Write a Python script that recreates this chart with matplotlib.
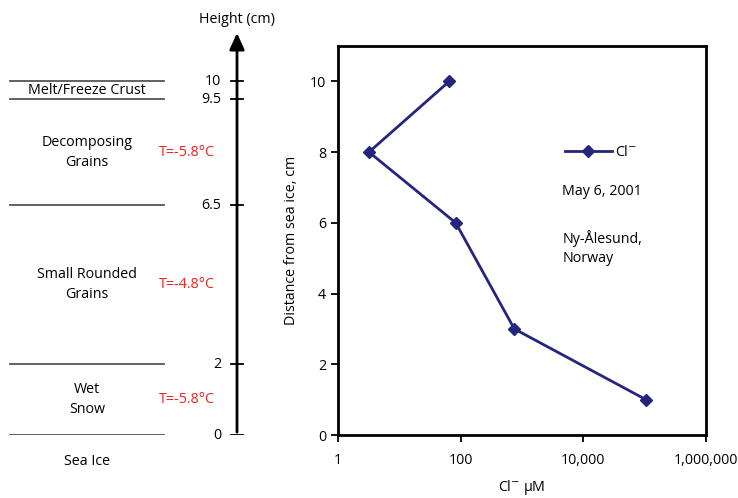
import numpy as np
import matplotlib.pyplot as plt

plt.rcParams['font.family'] = ['Open Sans', 'DejaVu Sans']

# Perfil de cloreto na neve
height_cm = [10, 8, 6, 3, 1]
cl_uM = [65, 3.2, 83, 750, 105000]

# Camadas de neve (limites em cm)
boundaries = [0, 2, 6.5, 9.5, 10]
boundary_labels = ['0', '2', '6.5', '9.5', '10']
layer_names = ['Wet\nSnow', 'Small Rounded\nGrains', 'Decomposing\nGrains', 'Melt/Freeze Crust']
layer_temps = ['T=-5.8°C', 'T=-4.8°C', 'T=-5.8°C', '']

xticks = [1, 100, 1e4, 1e6]
xtick_labels = ['1', '100', '10,000', '1,000,000']
yticks = [0, 2, 4, 6, 8, 10]

navy = '#25257f'
fs = 10.3
W, H = 738, 498
fig = plt.figure(figsize=(W / 100, H / 100), dpi=100)

bottom = (H - 435) / H
height = (435 - 46) / H

# Painel esquerdo: esquema das camadas
ax0 = fig.add_axes([0, bottom, 300 / W, height])
ax0.set_xlim(0, 300)
ax0.set_ylim(0, 11)
ax0.axis('off')

axis_x = 237
ax0.annotate('', xy=(axis_x, 11.45), xytext=(axis_x, 0),
             arrowprops=dict(arrowstyle='-|>,head_width=0.45,head_length=1.0',
                             color='black', lw=2), annotation_clip=False)
ax0.text(axis_x, 11.75, 'Height (cm)', ha='center', va='center', fontsize=fs,
         clip_on=False)

for b, lab in zip(boundaries, boundary_labels):
    ax0.plot([10, 164], [b, b], color='#555555', lw=1.3)
    ax0.plot([231, 243], [b, b], color='black', lw=1.3)
    ax0.text(221, b, lab, ha='right', va='center', fontsize=fs)

for i, (name, temp) in enumerate(zip(layer_names, layer_temps)):
    mid = (boundaries[i] + boundaries[i + 1]) / 2
    ax0.text(87, mid, name, ha='center', va='center', fontsize=fs,
             linespacing=1.45)
    if temp:
        ax0.text(187, mid, temp, ha='center', va='center', fontsize=fs,
                 color='#ee2222')

ax0.text(87, -0.76, 'Sea Ice', ha='center', va='center', fontsize=fs,
         clip_on=False)

# Painel direito: cloreto vs altura
ax = fig.add_axes([338 / W, bottom, (706 - 338) / W, height])
ax.plot(cl_uM, height_cm, color=navy, lw=2, marker='D', markersize=6.5,
        label='Cl$^{-}$')
ax.set_xscale('log')
ax.set_xlim(1, 1e6)
ax.set_ylim(0, 11)
ax.set_xticks(xticks)
ax.set_xticklabels(xtick_labels)
ax.minorticks_off()
ax.set_yticks(yticks)
ax.tick_params(labelsize=fs, width=1.3, length=5)
ax.tick_params(axis='x', pad=8)
for s in ax.spines.values():
    s.set_linewidth(2)
ax.set_xlabel('Cl$^{-}$ µM', fontsize=fs, labelpad=7)
ax.set_ylabel('Distance from sea ice, cm', fontsize=fs, labelpad=8)

leg = ax.legend(loc='upper left', bbox_to_anchor=(0.6, 0.76), frameon=False,
                fontsize=fs, handlelength=3.3, borderaxespad=0,
                handletextpad=0.2)
ax.text(0.61, 0.625, 'May 6, 2001', transform=ax.transAxes, fontsize=fs,
        va='center')
ax.text(0.61, 0.48, 'Ny-Ålesund,\nNorway', transform=ax.transAxes,
        fontsize=fs, va='center', linespacing=1.4)

plt.savefig('out.png', dpi=100)
